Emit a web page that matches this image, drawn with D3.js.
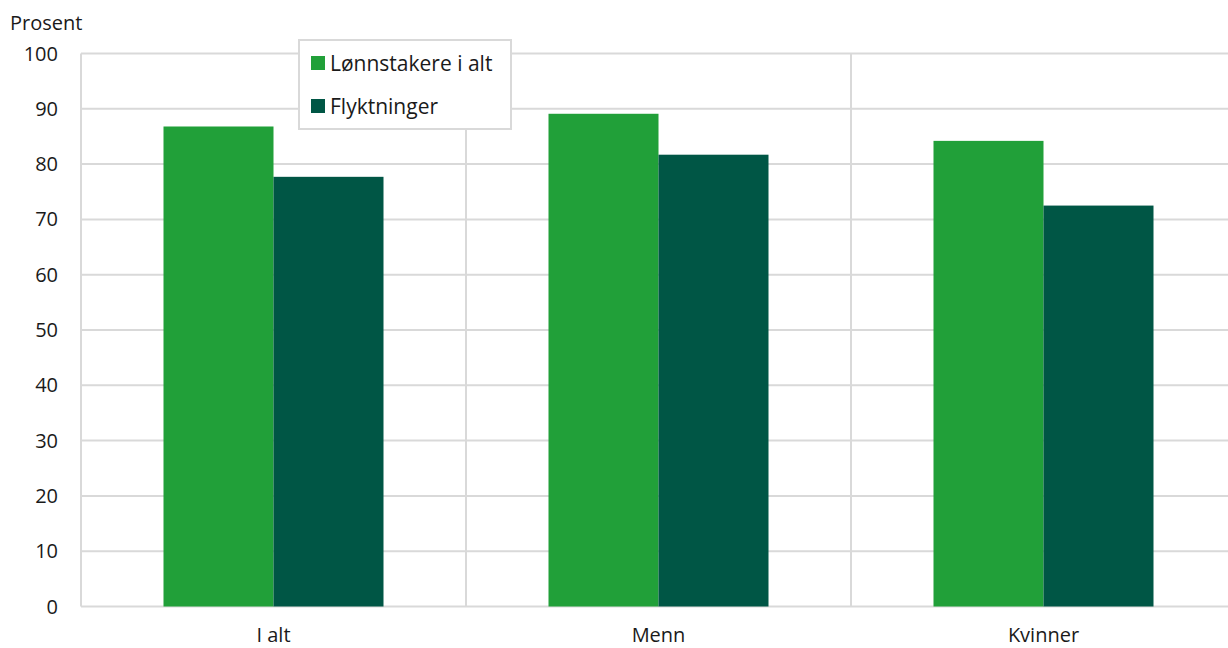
<!DOCTYPE html>
<html>
<head>
<meta charset="utf-8">
<script src="https://cdn.jsdelivr.net/npm/d3@7"></script>
<style>
body { margin: 0; background: #fff; overflow: hidden; }
text { font-family: "Open Sans", sans-serif; fill: #1a1a1a; }
</style>
</head>
<body>
<svg id="chart" width="1228" height="648"></svg>
<script>
var categories = ["I alt", "Menn", "Kvinner"];
var seriesNames = ["Lønnstakere i alt", "Flyktninger"];
var lonnstakere = [86.8, 89.1, 84.2];
var flyktninger = [77.7, 81.7, 72.5];
var yTicks = [0, 10, 20, 30, 40, 50, 60, 70, 80, 90, 100];
var colors = ["#21a039", "#005645"];

var svg = d3.select("#chart");
var plotL = 81, plotR = 1236, plotT = 53.5, plotB = 606.5;

var x = d3.scaleBand().domain(categories).range([plotL, plotR]);
var x1 = d3.scaleBand().domain(seriesNames).range([0, 220]);
var y = d3.scaleLinear().domain([0, 100]).range([plotB, plotT]);

// horizontal grid
svg.append("g").selectAll("line").data(yTicks).join("line")
	.attr("x1", plotL).attr("x2", 1228)
	.attr("y1", function(d){ return y(d); }).attr("y2", function(d){ return y(d); })
	.attr("stroke", "#d9d9d9").attr("stroke-width", 2);

// vertical lines between categories
svg.append("g").selectAll("line").data(categories.slice(1)).join("line")
	.attr("x1", function(d){ return x(d); }).attr("x2", function(d){ return x(d); })
	.attr("y1", plotT).attr("y2", plotB)
	.attr("stroke", "#d9d9d9").attr("stroke-width", 2);

// left axis line
svg.append("line").attr("x1", plotL).attr("x2", plotL).attr("y1", plotT).attr("y2", plotB)
	.attr("stroke", "#d9d9d9").attr("stroke-width", 2);

// bars
var rows = categories.map(function(c, i){
	return { cat: c, vals: [lonnstakere[i], flyktninger[i]] };
});
var groups = svg.append("g").selectAll("g").data(rows).join("g")
	.attr("transform", function(d){ return "translate(" + (x(d.cat) + x.bandwidth()/2 - 110) + ",0)"; });
groups.selectAll("rect").data(function(d){
	return d.vals.map(function(v, j){ return { s: seriesNames[j], v: v, j: j }; });
}).join("rect")
	.attr("x", function(d){ return x1(d.s); })
	.attr("width", x1.bandwidth())
	.attr("y", function(d){ return y(d.v); })
	.attr("height", function(d){ return y(0) - y(d.v); })
	.attr("fill", function(d){ return colors[d.j]; });

// y tick labels
svg.append("g").selectAll("text").data(yTicks).join("text")
	.attr("x", 58).attr("y", function(d){ return y(d) + 7; })
	.attr("text-anchor", "end").attr("font-size", 20)
	.text(function(d){ return d; });

// x labels
svg.append("g").selectAll("text").data(categories).join("text")
	.attr("x", function(d){ return x(d) + x.bandwidth()/2; }).attr("y", 642)
	.attr("text-anchor", "middle").attr("font-size", 20)
	.text(function(d){ return d; });

svg.append("text").attr("x", 10).attr("y", 30).attr("font-size", 20).text("Prosent");

// legend
var lg = svg.append("g");
lg.append("rect").attr("x", 299).attr("y", 40).attr("width", 212).attr("height", 89)
	.attr("fill", "#fff").attr("stroke", "#d9d9d9").attr("stroke-width", 2);
seriesNames.forEach(function(s, i){
	lg.append("rect").attr("x", 311).attr("y", 56 + i*43).attr("width", 14).attr("height", 14)
		.attr("fill", colors[i]);
	lg.append("text").attr("x", 330).attr("y", 71 + i*43).attr("font-size", 21).text(s);
});
</script>
</body>
</html>
